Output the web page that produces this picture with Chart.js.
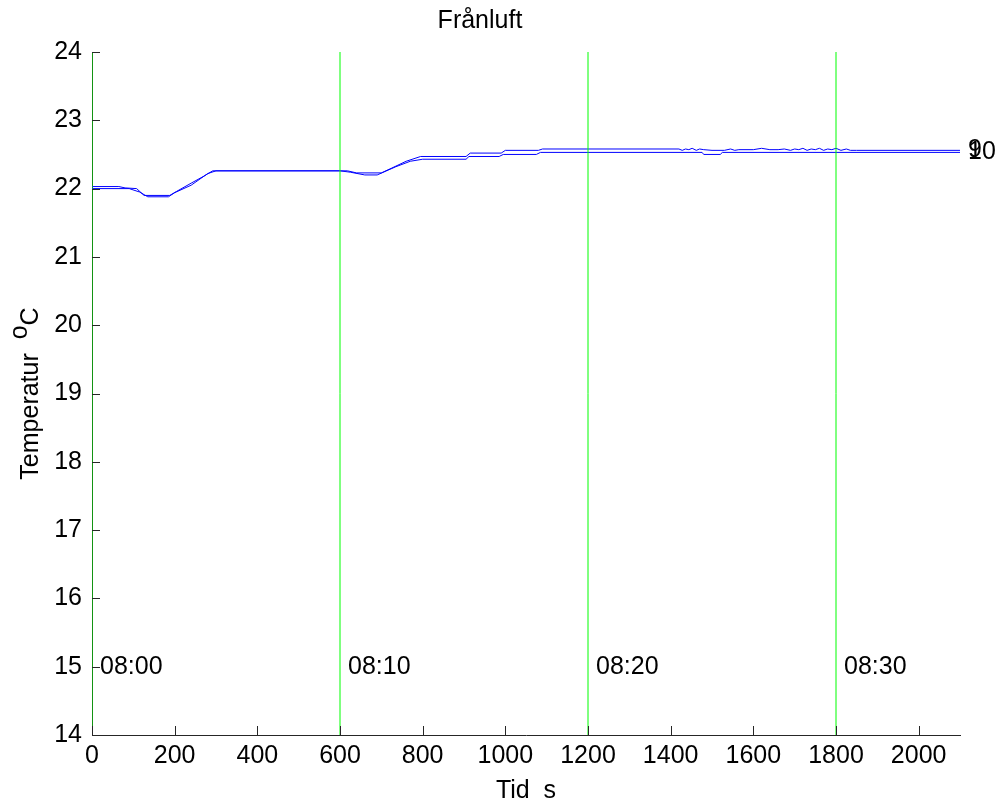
<!DOCTYPE html>
<html lang="sv">
<head>
  <meta charset="UTF-8">
  <title>Frånluft</title>
  <script src="https://cdn.jsdelivr.net/npm/chart.js"></script>
  <style>
    body { margin: 0; background: #ffffff; }
    #wrap { width: 1000px; height: 807px; }
  </style>
</head>
<body>
  <div id="wrap"><canvas id="chart" width="1000" height="807"></canvas></div>
  <script>
    // sensor 9
    const tid9 = [0, 65, 80, 108, 126, 188, 205, 240, 270, 292,
      618, 640, 700, 725, 760, 795, 905, 915, 990, 1000,
      1080, 1090, 1420, 1428, 1436, 1444, 1452, 1462, 1470, 1480,
      1500, 1530, 1545, 1555, 1565, 1600, 1620, 1640, 1660, 1675,
      1690, 1700, 1710, 1720, 1730, 1740, 1750, 1760, 1770, 1780,
      1790, 1800, 1812, 1825, 1835, 1850, 2100];
    const temp9 = [22.03, 22.03, 22.01, 22.0, 21.9, 21.9, 21.96, 22.08, 22.18, 22.26,
      22.26, 22.23, 22.23, 22.3, 22.4, 22.47, 22.47, 22.52, 22.52, 22.56,
      22.56, 22.58, 22.58, 22.56, 22.58, 22.57, 22.59, 22.56, 22.58, 22.57,
      22.56, 22.56, 22.58, 22.56, 22.57, 22.57, 22.59, 22.57, 22.57, 22.58,
      22.56, 22.58, 22.57, 22.59, 22.56, 22.58, 22.57, 22.59, 22.56, 22.58,
      22.57, 22.59, 22.56, 22.58, 22.56, 22.56, 22.56];

    // sensor 10
    const tid10 = [0, 90, 115, 135, 185, 200, 240, 280, 300, 600,
      625, 660, 690, 735, 770, 800, 905, 912, 985, 995,
      1075, 1085, 1476, 1480, 1520, 1525, 2100];
    const temp10 = [22.0, 22.0, 21.95, 21.88, 21.88, 21.94, 22.05, 22.22, 22.26, 22.26,
      22.24, 22.2, 22.2, 22.32, 22.4, 22.43, 22.43, 22.47, 22.47, 22.5,
      22.5, 22.53, 22.53, 22.5, 22.5, 22.53, 22.53];

    const seriesNames = ['9', '10'];

    // klockslag
    const markerTimes = [0, 600, 1200, 1800];
    const markerLabels = ['08:00', '08:10', '08:20', '08:30'];

    const yMin = 14, yMax = 24;
    const FONT = "'Liberation Sans', Arial, sans-serif";
    const FS = 25;

    function pts(xs, ys) {
      return xs.map((x, i) => ({ x: x, y: ys[i] }));
    }

    const datasets = [];
    markerTimes.forEach(t => {
      datasets.push({
        data: [{ x: t, y: yMin }, { x: t, y: yMax }],
        borderColor: '#00ff00',
        borderWidth: 1,
        pointRadius: 0,
        fill: false
      });
    });
    datasets.push({ label: seriesNames[0], data: pts(tid9, temp9), borderColor: '#0000ff', borderWidth: 1, pointRadius: 0, fill: false, endLabel: true });
    datasets.push({ label: seriesNames[1], data: pts(tid10, temp10), borderColor: '#0000ff', borderWidth: 1, pointRadius: 0, fill: false, endLabel: true });

    // inward ticks, marker texts, end labels and the y title with raised "o"
    const extras = {
      id: 'extras',
      afterDatasetsDraw(chart) {
        const ctx = chart.ctx;
        const xs = chart.scales.x, ys = chart.scales.y;
        const area = chart.chartArea;
        ctx.save();
        ctx.strokeStyle = '#262626';
        ctx.lineWidth = 1;
        ctx.beginPath();
        ys.ticks.forEach(t => {
          const py = Math.round(ys.getPixelForValue(t.value)) + 0.5;
          ctx.moveTo(area.left, py);
          ctx.lineTo(area.left + 8, py);
        });
        xs.ticks.forEach(t => {
          const px = Math.round(xs.getPixelForValue(t.value)) + 0.5;
          ctx.moveTo(px, area.bottom);
          ctx.lineTo(px, area.bottom - 9);
        });
        ctx.stroke();

        ctx.fillStyle = '#000000';
        ctx.font = FS + 'px ' + FONT;
        ctx.textAlign = 'left';
        ctx.textBaseline = 'middle';
        markerTimes.forEach((t, i) => {
          ctx.fillText(markerLabels[i], xs.getPixelForValue(t) + 8, ys.getPixelForValue(15));
        });

        chart.data.datasets.forEach(ds => {
          if (!ds.endLabel) return;
          const last = ds.data[ds.data.length - 1];
          ctx.fillText(ds.label, xs.getPixelForValue(last.x) + 8, ys.getPixelForValue(last.y));
        });

        // y title, centred on the axis
        const w1 = ctx.measureText('Temperatur  ').width;
        const w2 = ctx.measureText('o').width;
        const total = w1 + w2 + ctx.measureText('C').width;
        const midY = (area.top + area.bottom) / 2;
        ctx.translate(38, midY + total / 2);
        ctx.rotate(-Math.PI / 2);
        ctx.textBaseline = 'alphabetic';
        ctx.fillText('Temperatur  ', 0, 0);
        ctx.fillText('o', w1, -11);
        ctx.fillText('C', w1 + w2, 0);
        ctx.restore();
      }
    };

    new Chart(document.getElementById('chart'), {
      type: 'line',
      data: { datasets: datasets },
      plugins: [extras],
      options: {
        responsive: false,
        animation: false,
        layout: { padding: { left: 0, right: 40, top: 0, bottom: 0 } },
        plugins: {
          legend: { display: false },
          tooltip: { enabled: false },
          title: {
            display: true,
            text: 'Frånluft',
            color: '#000000',
            font: { family: FONT, size: FS, weight: 'normal', lineHeight: 1.2 },
            padding: { top: 6, bottom: 16 }
          }
        },
        scales: {
          x: {
            type: 'linear',
            min: 0,
            max: 2100,
            border: { display: true, color: '#262626', width: 1 },
            grid: { display: false, drawTicks: false },
            ticks: {
              stepSize: 200,
              includeBounds: false,
              color: '#000000',
              padding: 6,
              maxRotation: 0,
              font: { family: FONT, size: FS },
              callback: v => String(v)
            },
            title: {
              display: true,
              text: 'Tid  s',
              color: '#000000',
              font: { family: FONT, size: FS, lineHeight: 1.2 },
              padding: { top: 0, bottom: 1 }
            },
            afterFit(scale) { scale.height = 72; }
          },
          y: {
            min: yMin,
            max: yMax,
            border: { display: true, color: '#262626', width: 1 },
            grid: { display: false, drawTicks: false },
            ticks: {
              stepSize: 1,
              color: '#000000',
              padding: 10,
              font: { family: FONT, size: FS }
            },
            afterFit(scale) { scale.width = 92; }
          }
        }
      }
    });
  </script>
</body>
</html>
